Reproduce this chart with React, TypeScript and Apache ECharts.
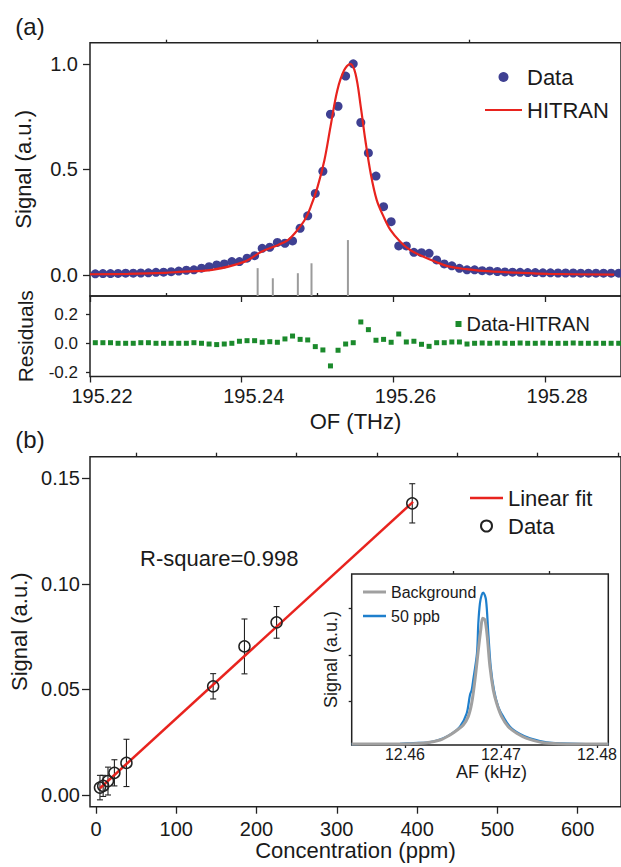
import React, { useEffect, useRef } from 'react';
import * as echarts from 'echarts';

const FONT = 'Liberation Sans, Arial, Helvetica, sans-serif';
const INK = '#1a1a1a';

// ---------- Panel (a): absorption line ----------
const ofFreq = [
  195.2207, 195.2217, 195.2227, 195.2237, 195.2247, 195.2257, 195.2267, 195.2277, 195.2287, 195.2297,
  195.2307, 195.2317, 195.2327, 195.2337, 195.2347, 195.2357, 195.2367, 195.2377, 195.2387, 195.2397,
  195.2407, 195.2417, 195.2427, 195.2437, 195.2447, 195.2457, 195.2467, 195.2477, 195.2487, 195.2497,
  195.2507, 195.2517, 195.2527, 195.2537, 195.2547, 195.2557, 195.2567, 195.2577, 195.2587, 195.2597,
  195.2607, 195.2617, 195.2627, 195.2637, 195.2647, 195.2657, 195.2667, 195.2677, 195.2687, 195.2697,
  195.2707, 195.2717, 195.2727, 195.2737, 195.2747, 195.2757, 195.2767, 195.2777, 195.2787, 195.2797,
  195.2807, 195.2817, 195.2827, 195.2837, 195.2847, 195.2857, 195.2867, 195.2877, 195.2887, 195.2897,
];
const dataSignal = [
  0.005, 0.006, 0.006, 0.007, 0.008, 0.008, 0.009, 0.010, 0.012, 0.013,
  0.015, 0.018, 0.022, 0.024, 0.032, 0.039, 0.047, 0.052, 0.063, 0.063,
  0.079, 0.091, 0.126, 0.131, 0.154, 0.150, 0.161, 0.221, 0.280, 0.386,
  0.491, 0.761, 0.799, 0.942, 1.000, 0.722, 0.578, 0.468, 0.323, 0.252,
  0.137, 0.137, 0.107, 0.105, 0.102, 0.071, 0.052, 0.043, 0.031, 0.024,
  0.024, 0.020, 0.019, 0.016, 0.014, 0.013, 0.012, 0.011, 0.011, 0.010,
  0.010, 0.009, 0.009, 0.009, 0.008, 0.008, 0.008, 0.008, 0.008, 0.008,
];
const residuals = [
  0.004, 0.004, 0.004, 0.0, 0.0, 0.0, 0.004, 0.004, 0.0, 0.0,
  0.0, 0.0, 0.0, 0.004, 0.0, -0.005, -0.009, -0.005, 0.0, 0.014,
  0.018, 0.018, 0.007, 0.011, 0.007, 0.030, 0.050, 0.027, 0.023, -0.023,
  -0.046, -0.156, -0.048, -0.005, 0.004, 0.147, 0.094, 0.021, 0.027, 0.007,
  0.064, 0.009, 0.014, -0.007, -0.021, 0.004, 0.004, 0.009, 0.009, -0.005,
  0.0, 0.002, 0.0, 0.002, 0.0, 0.0, 0.002, 0.0, 0.0, 0.002,
  0.0, 0.0, 0.0, 0.002, 0.0, 0.0, 0.0, 0.0, 0.0, 0.0,
];
const hitranCurve: [number, number][] = [
  [195.2200, 0.003], [195.2250, 0.005], [195.2300, 0.010], [195.2317, 0.014], [195.2361, 0.024],
  [195.2404, 0.063], [195.2426, 0.110], [195.2448, 0.142], [195.2461, 0.165], [195.2470, 0.197],
  [195.2483, 0.260], [195.2491, 0.323], [195.2500, 0.417], [195.2509, 0.543], [195.2517, 0.701],
  [195.2526, 0.874], [195.2535, 0.969], [195.2543, 1.000], [195.2550, 0.953], [195.2557, 0.795],
  [195.2563, 0.638], [195.2570, 0.481], [195.2578, 0.354], [195.2587, 0.276], [195.2596, 0.213],
  [195.2609, 0.157], [195.2622, 0.118], [195.2639, 0.087], [195.2657, 0.060], [195.2674, 0.039],
  [195.2696, 0.027], [195.2717, 0.019], [195.2761, 0.011], [195.2804, 0.005], [195.2891, 0.001],
];
const hitranLines: [number, number][] = [
  [195.2421, 0.032], [195.2441, -0.016], [195.2474, 0.008], [195.2492, 0.055], [195.2540, 0.165],
];

// ---------- Panel (b): calibration ----------
const concentration = [5, 9, 15, 23, 38, 146, 185, 225, 394];
const signalB = [0.0035, 0.0043, 0.0066, 0.0105, 0.0152, 0.0515, 0.0704, 0.0818, 0.1382];
const errB = [0.0058, 0.005, 0.0066, 0.0062, 0.0112, 0.006, 0.013, 0.0075, 0.0093];
const fitLine: [number, number][] = [[5, 0.0032], [395, 0.1389]];

// ---------- Inset ----------
const bgCurve: [number, number][] = [
  [12.45445, 0.09], [12.45531, 0.092], [12.45878, 0.092], [12.46052, 0.099], [12.46226, 0.121],
  [12.46365, 0.178], [12.46469, 0.285], [12.46555, 0.407], [12.46607, 0.499], [12.46659, 0.678],
  [12.46695, 0.964], [12.46729, 1.463], [12.46764, 2.105], [12.46789, 2.533], [12.46809, 2.784],
  [12.46833, 2.748], [12.46857, 2.391], [12.46885, 1.749], [12.4692, 1.249], [12.46955, 0.964],
  [12.47007, 0.678], [12.47076, 0.463], [12.47164, 0.321], [12.47268, 0.214], [12.47441, 0.121],
  [12.47615, 0.099], [12.47961, 0.092], [12.48118, 0.092],
];
const ppbCurve: [number, number][] = [
  [12.45445, 0.09], [12.45531, 0.092], [12.45948, 0.095], [12.46086, 0.113], [12.46226, 0.121],
  [12.46399, 0.214], [12.46503, 0.335], [12.46573, 0.463], [12.46643, 0.749], [12.46677, 1.142],
  [12.46695, 1.249], [12.46711, 1.463], [12.4675, 2.034], [12.46764, 2.677], [12.46781, 3.106],
  [12.46799, 3.283], [12.46816, 3.333], [12.46844, 3.176], [12.46868, 2.462], [12.46893, 1.749],
  [12.46927, 1.249], [12.46972, 0.89], [12.47024, 0.678], [12.47094, 0.463], [12.47198, 0.307],
  [12.47302, 0.214], [12.47476, 0.128], [12.47615, 0.107], [12.47961, 0.092], [12.48118, 0.092],
];

// ---------- Ticks ----------
const xTicksA = [195.22, 195.24, 195.26, 195.28];
const xMinorA = [195.23, 195.25, 195.27];
const yTicksA = [0, 0.5, 1.0];
const yMinorA = [0.25, 0.75];
const yTicksR = [-0.2, 0, 0.2];
const yMinorR = [-0.1, 0.1];
const xTicksB = [0, 100, 200, 300, 400, 500, 600];
const xMinorB = [50, 150, 250, 350, 450, 550, 650];
const yTicksB = [0, 0.05, 0.1, 0.15];
const yMinorB = [0.025, 0.075, 0.125];
const xTicksI = [12.46, 12.47, 12.48];
const xMinorI = [12.465, 12.475];
const yTicksI = [1, 2, 3];

const RED = '#e8231e';
const NAVY = '#3f4092';
const GREEN = '#1b8a2c';
const AXIS = '#222';

function tickAxis(
  gridIndex: number, min: number, max: number, ticks: number[], len: number,
  extra: any = {}
) {
  return {
    type: 'value', gridIndex, min, max, scale: true,
    splitLine: { show: false },
    axisLine: { show: false, onZero: false },
    axisTick: { show: true, customValues: ticks, length: len, inside: false, lineStyle: { color: AXIS, width: 1.3 } },
    axisLabel: { show: false },
    ...extra,
  };
}

function labels(values: number[], fmt: (v: number) => string, size: number, margin: number, extra: any = {}) {
  return {
    show: true, customValues: values, formatter: (v: number) => fmt(v),
    fontSize: size, fontFamily: FONT, color: INK, margin, ...extra,
  };
}

function nameStyle(size: number, extra: any = {}) {
  return { fontSize: size, fontFamily: FONT, color: INK, lineHeight: size, ...extra };
}

const lineIcon = (w: number, h: number) => `path://M0,0H${w}V${h}H0Z`;

export default function App() {
  const ref = useRef<HTMLDivElement>(null);
  useEffect(() => {
    if (!ref.current) return;
    const chart = echarts.init(ref.current, undefined, { renderer: 'svg' });
    const gridStyle = { show: true, borderColor: AXIS, borderWidth: 1.5, backgroundColor: 'transparent' };

    const option: any = {
      animation: false,
      backgroundColor: '#fff',
      textStyle: { fontFamily: FONT },
      grid: [
        { left: 90, top: 42.7, width: 537, height: 253.3, ...gridStyle },
        { left: 90, top: 296, width: 537, height: 80.5, ...gridStyle },
        { left: 90, top: 456.7, width: 537, height: 350, ...gridStyle },
        { left: 351.7, top: 574, width: 256.6, height: 171, ...gridStyle, backgroundColor: '#fff' },
      ],
      xAxis: [
        tickAxis(0, 195.22, 195.29, xTicksA, 6),
        tickAxis(0, 195.22, 195.29, xMinorA, 3),
        tickAxis(1, 195.22, 195.29, xTicksA, 6, {
          axisLabel: labels(xTicksA, (v) => v.toFixed(2), 20, 9, { padding: [0, 0, 0, 24] }),
          name: 'OF (THz)', nameLocation: 'middle', nameGap: 34, nameTextStyle: nameStyle(22),
        }),
        tickAxis(1, 195.22, 195.29, xMinorA, 3),
        tickAxis(2, -7.4, 654, xTicksB, 7, {
          axisLabel: labels(xTicksB, (v) => String(Math.round(v)), 20, 12),
          name: 'Concentration (ppm)', nameLocation: 'middle', nameGap: 28, nameTextStyle: nameStyle(22),
        }),
        tickAxis(2, -7.4, 654, xMinorB, 4),
        tickAxis(3, 12.45445, 12.48118, xTicksI, 3, {
          axisLabel: labels(xTicksI, (v) => v.toFixed(2), 16, 1),
          name: 'AF (kHz)', nameLocation: 'middle', nameGap: 17, nameTextStyle: nameStyle(18, { padding: [0, 0, 0, 23] }),
        }),
        tickAxis(3, 12.45445, 12.48118, xMinorI, 3),
      ],
      yAxis: [
        tickAxis(0, -0.1, 1.1, yTicksA, 7, {
          axisLabel: labels(yTicksA, (v) => v.toFixed(1), 20, 12),
          name: 'Signal (a.u.)', nameLocation: 'middle', nameGap: 56, nameTextStyle: nameStyle(22),
        }),
        tickAxis(0, -0.1, 1.1, yMinorA, 4),
        tickAxis(1, -0.229, 0.326, yTicksR, 4, {
          axisLabel: labels(yTicksR, (v) => v.toFixed(1), 17, 12),
          name: 'Residuals', nameLocation: 'middle', nameGap: 54, nameTextStyle: nameStyle(21),
        }),
        tickAxis(1, -0.229, 0.326, yMinorR, 2.5),
        tickAxis(2, -0.00555, 0.1603, yTicksB, 8, {
          axisLabel: labels(yTicksB, (v) => v.toFixed(2), 20, 10),
          name: 'Signal (a.u.)', nameLocation: 'middle', nameGap: 59, nameTextStyle: nameStyle(22),
        }),
        tickAxis(2, -0.00555, 0.1603, yMinorB, 5),
        tickAxis(3, 0.071, 3.732, yTicksI, 3, {
          name: 'Signal (a.u.)', nameLocation: 'middle', nameGap: 11.7, nameTextStyle: nameStyle(18),
        }),
      ],
      legend: [
        {
          data: [{ name: 'Data' }, { name: 'HITRAN', icon: lineIcon(37, 2.2) }],
          orient: 'vertical', left: 480, top: 61,
          itemWidth: 37, itemHeight: 10, itemGap: 11,
          textStyle: { fontSize: 22, lineHeight: 22, fontFamily: FONT, color: INK },
        },
        {
          data: [{ name: 'Data-HITRAN', icon: 'rect' }], orient: 'vertical', left: 450.5, top: 309,
          itemWidth: 6, itemHeight: 6,
          textStyle: { fontSize: 20, lineHeight: 20, fontFamily: FONT, color: INK },
        },
        {
          data: [{ name: 'Linear fit', icon: lineIcon(33, 2.5) }, { name: 'Data (b)' }],
          orient: 'vertical', left: 465, top: 482,
          itemWidth: 33, itemHeight: 11, itemGap: 6,
          formatter: (n: string) => n.replace(' (b)', ''),
          textStyle: { fontSize: 22, lineHeight: 22, fontFamily: FONT, color: INK },
        },
        {
          data: [{ name: 'Background', icon: lineIcon(23, 3) }, { name: '50 ppb', icon: lineIcon(23, 2.5) }],
          orient: 'vertical', left: 358, top: 579,
          itemWidth: 23, itemHeight: 8, itemGap: 8,
          textStyle: { fontSize: 16, lineHeight: 16, fontFamily: FONT, color: INK },
        },
      ],
      graphic: [
        { type: 'text', x: 30, y: 26, style: { text: '(a)', font: `24px ${FONT}`, fill: INK, textAlign: 'center', textVerticalAlign: 'middle' } },
        { type: 'text', x: 30, y: 439, style: { text: '(b)', font: `24px ${FONT}`, fill: INK, textAlign: 'center', textVerticalAlign: 'middle' } },
        { type: 'text', x: 140, y: 558, style: { text: 'R-square=0.998', font: `22px ${FONT}`, fill: INK, textAlign: 'left', textVerticalAlign: 'middle' } },
      ],
      series: [
        {
          type: 'custom', name: 'lines', xAxisIndex: 0, yAxisIndex: 0,
          data: hitranLines, encode: { x: 0, y: 1 }, z: 1,
          renderItem: (params: any, api: any) => {
            const x = api.value(0);
            const top = api.value(1);
            const p1 = api.coord([x, top]);
            const p0 = api.coord([x, -0.1]);
            return { type: 'line', shape: { x1: p0[0], y1: p0[1], x2: p1[0], y2: p1[1] }, style: { stroke: '#9b9b9b', lineWidth: 2 } };
          },
        },
        {
          type: 'scatter', name: 'Data', xAxisIndex: 0, yAxisIndex: 0, z: 2,
          data: ofFreq.map((f, i) => [f, dataSignal[i]]),
          symbol: 'circle', symbolSize: 9, itemStyle: { color: NAVY, opacity: 1 },
        },
        {
          type: 'line', name: 'HITRAN', xAxisIndex: 0, yAxisIndex: 0, z: 3,
          data: hitranCurve, smooth: 0.35, symbol: 'none',
          lineStyle: { color: RED, width: 2.2 }, itemStyle: { color: RED },
        },
        {
          type: 'scatter', name: 'Data-HITRAN', xAxisIndex: 2, yAxisIndex: 2,
          data: ofFreq.map((f, i) => [f, residuals[i]]),
          symbol: 'rect', symbolSize: 5, itemStyle: { color: GREEN, opacity: 1 },
        },
        {
          type: 'custom', name: 'err', xAxisIndex: 4, yAxisIndex: 4, z: 2,
          data: concentration.map((c, i) => [c, signalB[i], errB[i]]), encode: { x: 0, y: 1 },
          renderItem: (params: any, api: any) => {
            const x = api.value(0), y = api.value(1), e = api.value(2);
            const hi = api.coord([x, y + e]);
            const lo = api.coord([x, y - e]);
            const s = { stroke: '#222', lineWidth: 1.1 };
            return {
              type: 'group', children: [
                { type: 'line', shape: { x1: hi[0], y1: hi[1], x2: lo[0], y2: lo[1] }, style: s },
                { type: 'line', shape: { x1: hi[0] - 3, y1: hi[1], x2: hi[0] + 3, y2: hi[1] }, style: s },
                { type: 'line', shape: { x1: lo[0] - 3, y1: lo[1], x2: lo[0] + 3, y2: lo[1] }, style: s },
              ],
            };
          },
        },
        {
          type: 'line', name: 'Linear fit', xAxisIndex: 4, yAxisIndex: 4, z: 3,
          data: fitLine, symbol: 'none',
          lineStyle: { color: RED, width: 2.5 }, itemStyle: { color: RED },
        },
        {
          type: 'scatter', name: 'Data (b)', xAxisIndex: 4, yAxisIndex: 4, z: 4,
          data: concentration.map((c, i) => [c, signalB[i]]),
          symbol: 'circle', symbolSize: 11,
          itemStyle: { color: 'rgba(255,255,255,0)', borderColor: '#222', borderWidth: 1.5, opacity: 1 },
        },
        {
          type: 'line', name: '50 ppb', xAxisIndex: 6, yAxisIndex: 6, z: 3,
          data: ppbCurve, smooth: 0.3, symbol: 'none',
          lineStyle: { color: '#1e7fcc', width: 2.2 }, itemStyle: { color: '#1e7fcc' },
        },
        {
          type: 'line', name: 'Background', xAxisIndex: 6, yAxisIndex: 6, z: 4,
          data: bgCurve, smooth: 0.3, symbol: 'none',
          lineStyle: { color: '#a0a0a0', width: 3 }, itemStyle: { color: '#a0a0a0' },
        },
      ],
    };
    chart.setOption(option);
    return () => chart.dispose();
  }, []);
  return (
    <div
      ref={ref}
      style={{ position: 'absolute', left: 0, top: 0, width: 621, height: 867, background: '#fff' }}
    />
  );
}
